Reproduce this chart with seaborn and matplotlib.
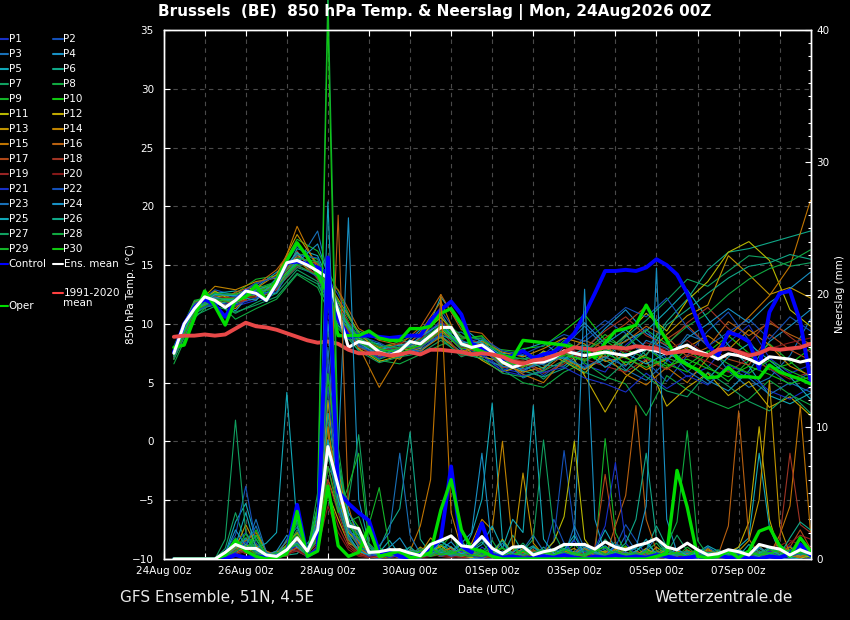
import sys
import numpy as np
import pandas as pd
import matplotlib
matplotlib.use("Agg")
import matplotlib.pyplot as plt
from matplotlib.lines import Line2D
from matplotlib.ticker import MultipleLocator
import seaborn as sns

# ---------------- time axes (hours after 24Aug2026 00Z) ----------------
HOURS_6H = list(range(6, 379, 6))     # 63 steps
HOURS_12H = list(range(6, 379, 12))   # 32 steps
X_TICK_DAYS = [0, 2, 4, 6, 8, 10, 12, 14]
X_TICK_LABELS = ["24Aug 00z", "26Aug 00z", "28Aug 00z", "30Aug 00z",
                 "01Sep 00z", "03Sep 00z", "05Sep 00z", "07Sep 00z"]

# ---------------- main series, 6-hourly ----------------
ENS_MEAN_T = [7.5, 10.0, 11.3, 12.3, 12.0, 11.4, 12.0, 12.8, 12.6,
              12.0, 13.4, 15.2, 15.4, 15.0, 14.5, 13.9, 11.0, 8.0,
              8.5, 8.3, 7.6, 7.3, 7.7, 8.5, 8.3, 9.0, 9.7,
              9.7, 8.3, 8.0, 8.2, 7.6, 6.75, 6.3, 6.6, 6.75,
              6.75, 7.1, 7.7, 7.5, 7.3, 7.45, 7.6, 7.45, 7.3,
              7.6, 7.9, 7.7, 7.45, 7.9, 8.2, 7.7, 7.4, 7.0,
              7.45, 7.3, 7.0, 6.6, 7.2, 7.1, 7.0, 6.75, 6.95]
CONTROL_T = [7.6, 10.0, 11.4, 12.1, 11.6, 10.6, 12.0, 12.8, 12.6,
             12.0, 13.4, 15.2, 15.3, 15.1, 14.8, 14.3, 10.5, 8.9,
             9.0, 9.0, 8.9, 8.8, 8.9, 9.0, 9.0, 10.3, 11.2,
             11.9, 10.8, 8.3, 8.0, 7.6, 7.0, 7.3, 7.7, 7.1,
             7.4, 7.6, 8.3, 9.2, 10.8, 12.6, 14.5, 14.5, 14.6,
             14.5, 14.8, 15.5, 15.0, 14.2, 12.6, 10.2, 8.2, 7.3,
             9.3, 9.0, 8.5, 6.2, 11.0, 12.6, 12.8, 10.2, 5.2]
OPER_T = [8.0, 8.2, 10.5, 12.8, 11.5, 9.9, 12.0, 12.3, 13.3,
          12.0, 13.7, 15.4, 16.9, 15.7, 14.2, 12.5, 9.0, 9.0,
          9.0, 9.4, 8.8, 8.6, 8.6, 9.6, 9.6, 9.8, 10.9,
          11.3, 10.0, 8.0, 7.6, 7.4, 7.3, 7.1, 8.6, 8.5,
          8.4, 8.3, 8.2, 8.0, 7.9, 7.1, 8.4, 9.4, 9.6,
          9.9, 11.6, 10.0, 8.6, 7.1, 6.5, 6.1, 5.4, 5.5,
          6.3, 5.5, 5.5, 5.4, 6.5, 5.9, 5.6, 5.3, 4.9]
CLIM_T = [8.9, 9.0, 9.0, 9.1, 9.0, 9.1, 9.6, 10.1, 9.8,
          9.7, 9.5, 9.2, 8.9, 8.6, 8.4, 8.5, 8.3, 7.8,
          7.5, 7.5, 7.5, 7.3, 7.4, 7.6, 7.4, 7.8, 7.8,
          7.7, 7.6, 7.4, 7.5, 7.4, 7.2, 6.8, 6.6, 6.9,
          7.0, 7.3, 7.6, 8.0, 7.9, 7.8, 8.0, 8.0, 7.9,
          8.1, 8.0, 7.9, 7.5, 7.6, 7.7, 7.5, 7.3, 7.8,
          7.9, 7.6, 7.3, 7.5, 7.9, 7.8, 7.9, 8.0, 8.3]
ENS_MEAN_P = [0, 0, 0, 0, 0, 0.5, 1.1, 0.8, 0.8,
              0.3, 0.2, 0.7, 1.6, 0.6, 2.2, 8.5, 5.5, 2.5,
              2.3, 0.5, 0.55, 0.7, 0.7, 0.45, 0.25, 1.1, 1.4,
              1.75, 1.0, 0.9, 1.7, 0.8, 0.4, 0.9, 0.95, 0.3,
              0.55, 0.7, 1.1, 1.1, 1.1, 0.75, 1.3, 0.9, 0.7,
              1.0, 1.2, 1.55, 0.9, 0.7, 1.2, 0.7, 0.3, 0.4,
              0.7, 0.55, 0.3, 1.1, 0.9, 0.75, 0.3, 0.7, 0.4]
CONTROL_P = [0, 0, 0, 0, 0, 0, 0.3, 0.1, 0.2,
             0.1, 0.2, 0.5, 4.1, 0.2, 0.7, 22.8, 5.1, 4.2,
             3.5, 2.9, 0.5, 0.6, 0.2, 0.1, 0.3, 0.8, 1.5,
             7.0, 1.0, 0.5, 2.7, 0.3, 0.1, 0.2, 0, 0.1,
             0.2, 0.1, 0.3, 0.1, 0, 0.2, 0.1, 0.3, 0.1,
             0.2, 0.1, 0.3, 0.2, 0, 0.1, 0.2, 0.1, 0.3,
             0.1, 0.2, 0.1, 0, 0.2, 0.1, 0.4, 1.1, 0.3]
OPER_P = [0, 0, 0, 0, 0, 0.3, 1.4, 0.6, 0.2,
          0, 0.1, 0.4, 3.6, 0.2, 0.6, 5.5, 1.0, 0.2,
          0.5, 2.4, 0.2, 0.4, 0.6, 0.1, 0.2, 0.5, 3.7,
          6.0, 2.2, 0.8, 0.6, 0.2, 0, 0, 0, 0,
          0, 0, 0, 0, 0, 0, 0, 0, 0,
          0, 0, 0.2, 0.4, 6.7, 3.9, 0.2, 0.1, 0.2,
          0.6, 0.1, 0.6, 2.1, 2.4, 1.0, 0.2, 1.6, 0.6]

# ---------------- perturbed members: 850 hPa temperature, 12-hourly ----------------
P1_T = [7.2, 11.0, 12.5, 11.5, 12.0, 13.8, 15.8, 14.9, 10.2, 8.2, 7.0, 8.1, 9.0, 10.1, 7.9, 7.5,
        6.2, 5.8, 7.4, 8.8, 6.5, 5.9, 8.2, 9.6, 7.0, 5.5, 6.3, 8.4, 9.9, 7.1, 5.8, 6.5]
P2_T = [7.8, 11.6, 12.9, 12.4, 13.5, 14.0, 16.6, 15.2, 12.5, 9.1, 8.2, 7.1, 8.8, 11.2, 8.6, 7.4,
        6.0, 6.9, 5.6, 6.9, 8.9, 10.3, 9.2, 6.8, 5.1, 7.3, 9.4, 11.0, 8.6, 6.2, 4.8, 5.9]
P3_T = [7.4, 11.2, 11.6, 12.2, 12.9, 12.9, 15.1, 17.9, 10.5, 8.8, 7.9, 8.0, 7.6, 9.2, 9.3, 8.0,
        7.2, 5.4, 6.1, 8.1, 9.8, 8.0, 6.1, 5.2, 6.8, 9.1, 8.4, 6.0, 4.6, 5.4, 7.3, 10.4]
P4_T = [7.0, 10.8, 12.2, 11.1, 13.1, 14.4, 15.6, 13.9, 9.9, 8.0, 7.4, 7.9, 9.5, 10.9, 8.1, 8.6,
        7.5, 7.3, 6.5, 6.4, 7.8, 9.6, 11.2, 9.2, 8.1, 6.6, 5.2, 4.3, 6.0, 8.5, 9.8, 11.2]
P5_T = [7.6, 11.4, 12.6, 12.8, 12.4, 12.6, 16.4, 15.8, 11.8, 8.6, 8.3, 7.2, 8.0, 12.3, 9.8, 8.4,
        6.5, 7.8, 8.4, 7.1, 6.2, 7.0, 8.6, 9.4, 11.1, 12.9, 10.4, 8.2, 6.4, 3.9, 3.2, 4.1]
P6_T = [7.3, 11.5, 11.9, 11.7, 12.2, 13.1, 14.8, 14.2, 10.8, 9.4, 8.7, 8.6, 8.2, 9.0, 7.6, 7.0,
        6.4, 6.0, 5.5, 6.2, 7.5, 6.9, 6.0, 7.8, 10.2, 12.1, 14.6, 16.1, 16.4, 16.9, 17.4, 17.9]
P7_T = [7.1, 10.9, 11.8, 10.9, 11.8, 12.6, 14.6, 13.6, 9.6, 7.8, 7.0, 7.6, 8.6, 8.8, 7.2, 7.9,
        7.4, 6.6, 5.3, 6.8, 8.0, 7.1, 8.9, 10.3, 12.0, 13.8, 13.2, 14.5, 15.8, 15.6, 14.9, 15.2]
P8_T = [6.6, 10.5, 12.1, 10.4, 11.3, 12.1, 14.2, 13.1, 9.2, 8.3, 6.9, 6.6, 7.4, 8.2, 8.8, 8.9,
        6.1, 5.0, 4.6, 5.9, 6.7, 5.5, 4.9, 2.2, 5.6, 4.4, 3.5, 2.8, 3.6, 5.2, 4.0, 3.1]
P9_T = [8.1, 12.0, 12.4, 12.6, 13.8, 14.1, 17.2, 16.2, 12.8, 9.0, 8.0, 8.5, 9.2, 10.5, 9.0, 8.1,
        7.8, 7.6, 7.0, 8.6, 7.6, 9.1, 7.8, 7.1, 6.2, 7.9, 6.4, 5.1, 6.9, 8.3, 6.8, 5.4]
P10_T = [7.9, 11.8, 12.7, 12.1, 12.8, 13.6, 16.0, 15.5, 11.4, 8.9, 7.7, 7.4, 8.4, 9.9, 8.7, 9.0,
         7.0, 7.9, 8.1, 9.4, 10.8, 8.6, 7.4, 8.0, 6.6, 5.9, 7.6, 9.0, 7.5, 6.1, 6.6, 7.9]
P11_T = [7.7, 11.1, 12.3, 12.5, 13.2, 13.0, 15.9, 14.4, 11.9, 8.4, 7.3, 7.8, 7.9, 9.6, 7.8, 7.2,
         6.8, 6.3, 7.7, 6.8, 5.8, 7.6, 9.0, 10.9, 9.4, 12.0, 13.6, 16.1, 17.0, 15.4, 11.2, 9.8]
P12_T = [7.5, 11.3, 12.8, 11.8, 12.5, 13.3, 15.2, 14.8, 10.9, 7.9, 6.8, 7.3, 8.5, 9.4, 8.2, 6.9,
         5.9, 6.5, 7.1, 8.3, 5.6, 2.5, 5.5, 6.9, 3.0, 4.6, 5.8, 3.9, 5.1, 2.9, 3.8, 2.2]
P13_T = [7.0, 11.7, 12.0, 11.3, 13.0, 14.2, 17.6, 15.0, 12.1, 9.3, 7.5, 7.0, 8.9, 10.6, 8.4, 7.8,
         6.6, 5.9, 6.3, 7.5, 6.9, 8.2, 6.5, 7.4, 9.1, 10.7, 11.6, 15.8, 14.2, 12.5, 13.1, 12.2]
P14_T = [7.3, 11.5, 13.2, 12.9, 13.6, 13.9, 15.4, 14.0, 10.6, 8.7, 8.0, 8.3, 7.7, 8.9, 7.5, 8.5,
         7.6, 7.2, 7.9, 8.8, 8.3, 6.8, 7.2, 6.1, 7.0, 8.0, 9.0, 7.8, 9.5, 8.2, 6.4, 5.6]
P15_T = [7.2, 11.0, 12.2, 12.2, 12.3, 13.5, 18.3, 14.7, 10.3, 8.1, 4.6, 7.5, 9.3, 11.9, 8.0, 7.6,
         6.9, 5.7, 5.0, 7.0, 6.1, 7.3, 5.7, 4.8, 6.3, 5.0, 7.1, 8.9, 10.6, 12.4, 14.9, 20.5]
P16_T = [7.8, 11.9, 11.7, 12.7, 13.3, 14.6, 16.9, 14.1, 12.9, 9.6, 8.6, 8.2, 9.7, 12.5, 9.5, 9.2,
         7.3, 6.8, 6.0, 7.4, 8.6, 7.9, 8.5, 9.8, 8.9, 7.2, 8.0, 10.2, 9.0, 10.1, 9.1, 8.3]
P17_T = [7.4, 11.4, 12.0, 11.9, 12.1, 12.9, 15.7, 15.1, 11.2, 8.5, 7.8, 8.0, 8.0, 9.3, 8.5, 8.0,
         6.3, 6.4, 6.7, 7.6, 7.2, 8.8, 10.0, 11.5, 8.7, 9.9, 8.1, 7.0, 6.5, 9.1, 7.8, 6.9]
P18_T = [7.6, 11.2, 12.4, 11.5, 12.7, 13.2, 16.2, 13.8, 10.7, 8.0, 7.2, 7.7, 8.7, 10.2, 8.9, 8.3,
         7.1, 6.7, 5.8, 6.6, 7.9, 9.4, 10.6, 9.0, 8.2, 10.1, 11.4, 9.6, 8.4, 10.3, 8.9, 7.6]
P19_T = [7.1, 11.0, 12.1, 12.3, 13.0, 13.0, 14.9, 14.3, 10.4, 8.6, 7.5, 8.4, 8.3, 9.5, 7.3, 7.7,
         6.7, 6.1, 6.8, 7.8, 7.0, 6.4, 5.9, 7.0, 6.1, 7.4, 6.8, 5.9, 7.1, 6.2, 5.3, 5.9]
P20_T = [7.7, 11.6, 12.3, 12.0, 12.4, 13.7, 15.3, 14.6, 11.6, 8.8, 7.9, 7.8, 8.1, 9.8, 8.0, 8.2,
         7.0, 6.9, 7.3, 8.0, 7.4, 8.1, 7.6, 8.4, 7.8, 8.6, 7.3, 8.0, 7.5, 7.9, 8.4, 8.8]
P21_T = [7.3, 11.1, 11.8, 11.6, 12.2, 13.1, 15.0, 14.0, 10.1, 8.3, 7.1, 7.9, 8.5, 10.3, 7.7, 7.3,
         6.0, 5.6, 5.9, 6.3, 5.4, 4.9, 4.2, 5.8, 4.5, 5.6, 4.8, 6.5, 5.7, 4.3, 3.6, 4.6]
P22_T = [7.9, 11.7, 12.6, 12.3, 13.4, 14.0, 15.9, 15.6, 11.0, 9.0, 8.4, 7.5, 8.0, 9.1, 8.3, 8.8,
         7.7, 7.4, 8.2, 9.1, 8.5, 9.9, 11.4, 10.6, 12.2, 9.7, 8.1, 9.3, 10.4, 8.7, 10.6, 9.4]
P23_T = [7.5, 11.3, 12.2, 12.0, 12.6, 12.7, 15.5, 14.5, 11.3, 8.1, 7.6, 7.4, 7.8, 9.0, 8.6, 7.9,
         6.4, 6.2, 6.6, 7.2, 6.3, 7.2, 6.4, 8.6, 7.9, 6.0, 4.9, 6.2, 5.4, 4.0, 5.0, 4.2]
P24_T = [7.2, 11.4, 12.3, 11.8, 12.9, 13.4, 15.2, 16.8, 11.5, 8.4, 7.3, 7.6, 8.9, 10.0, 8.2, 7.6,
         7.1, 6.0, 7.0, 8.4, 10.1, 8.3, 9.5, 8.0, 6.9, 8.8, 10.0, 11.3, 10.1, 11.8, 13.0, 14.4]
P25_T = [7.6, 11.2, 12.5, 12.4, 12.0, 13.9, 16.1, 14.2, 10.9, 8.8, 7.8, 8.2, 8.4, 9.7, 8.4, 8.4,
         7.3, 6.5, 7.6, 7.0, 7.9, 6.3, 7.5, 6.6, 7.5, 6.7, 5.3, 7.2, 8.3, 6.9, 5.5, 3.6]
P26_T = [7.4, 11.3, 12.0, 12.1, 12.6, 13.3, 15.4, 14.8, 11.1, 8.5, 7.7, 7.8, 8.3, 9.7, 8.1, 8.0,
         6.9, 7.1, 6.2, 7.7, 8.2, 7.4, 9.1, 7.3, 9.9, 11.2, 12.6, 13.9, 14.9, 15.2, 15.9, 15.5]
P27_T = [7.0, 10.7, 11.5, 11.0, 11.6, 12.3, 14.3, 13.4, 9.8, 7.7, 6.7, 7.2, 7.5, 8.6, 7.4, 7.1,
         5.8, 5.5, 6.0, 6.9, 5.9, 5.2, 6.8, 5.5, 4.3, 3.8, 5.9, 4.7, 3.4, 2.6, 4.1, 2.4]
P28_T = [8.0, 11.9, 12.6, 12.5, 13.0, 13.6, 15.6, 15.3, 11.9, 9.2, 8.1, 8.0, 8.6, 9.9, 8.9, 8.7,
         7.4, 7.0, 7.3, 8.2, 7.7, 8.7, 8.0, 9.5, 8.3, 9.8, 10.9, 12.5, 13.8, 14.7, 15.3, 16.3]
P29_T = [7.8, 11.5, 12.1, 12.2, 12.5, 13.1, 15.0, 14.1, 10.7, 8.4, 7.6, 7.9, 8.1, 9.4, 7.9, 8.1,
         6.6, 6.7, 7.1, 7.5, 6.8, 7.8, 7.1, 6.3, 7.1, 6.5, 7.7, 6.6, 5.8, 6.9, 6.0, 5.2]
P30_T = [7.3, 11.1, 12.0, 11.9, 12.7, 13.5, 15.1, 14.9, 11.3, 8.7, 7.9, 7.5, 8.2, 9.8, 8.2, 7.8,
         6.8, 6.4, 6.9, 7.3, 7.0, 7.5, 6.7, 7.2, 6.4, 7.0, 6.2, 5.5, 6.4, 5.7, 4.9, 5.5]

# ---------------- perturbed members: precipitation (mm), 6-hourly ----------------
P1_P = [0, 0, 0, 0, 0, 0.3, 1.2, 2.0, 0.6, 0.2, 0, 0.4, 1.1, 0.3, 1.5, 15.0, 4.2, 1.8,
        1.2, 0.3, 0.2, 0.5, 0, 0.3, 0.1, 0.6, 1.4, 0.8, 0.2, 0.1, 0.9, 0.4, 0, 0.2, 0.6, 0.1,
        0, 0.3, 1.0, 0.4, 0.2, 0, 0.5, 0.9, 0.3, 0.1, 0, 0.4, 0.8, 0.2, 0, 0.1, 0.3, 0,
        0, 0.2, 0.6, 0.1, 0, 0.4, 1.0, 0.3, 0]
P2_P = [0, 0, 0, 0, 0, 0.5, 0.8, 1.5, 0.9, 0.1, 0.3, 0.2, 2.0, 0.5, 3.0, 9.0, 6.5, 2.1,
        0.9, 0.2, 0, 0.4, 0.6, 0.2, 0, 0.8, 0.5, 0.3, 0.1, 0.6, 0.2, 0, 0.3, 0.1, 0.4, 0.9,
        0.2, 1.4, 8.2, 2.1, 0.3, 0.1, 0, 0.5, 0.2, 0, 0.3, 0.6, 0.1, 0, 0.2, 0.4, 0, 0.1,
        0.3, 0, 0, 0.2, 0.5, 0.1, 0, 0.2, 0.6]
P3_P = [0, 0, 0, 0, 0, 0.2, 0.6, 1.0, 2.5, 0.4, 0.1, 0.8, 0.6, 0.2, 1.0, 7.0, 5.5, 3.0,
        1.8, 0.4, 0.1, 0.6, 0.2, 0, 0.3, 1.1, 0.4, 0.2, 0.6, 0.1, 0, 0.4, 1.2, 0.3, 0.1, 0,
        0.3, 0.6, 0.2, 2.5, 0.8, 0.1, 0, 0.4, 1.8, 0.6, 0.2, 0, 0.3, 0.7, 0.2, 0, 0.1, 0.5,
        0.2, 0, 0.4, 0.9, 0.3, 0, 0.1, 0.6, 0.2]
P4_P = [0, 0, 0, 0, 0, 0.1, 0.4, 0.7, 0.3, 0, 0.2, 0.5, 1.2, 0.3, 2.2, 11.0, 8.0, 25.8,
        4.5, 1.1, 0.3, 0.2, 0.6, 0.4, 0.1, 0.3, 0.7, 1.3, 0.4, 0, 0.2, 0.5, 0.1, 0.3, 0.8, 0.2,
        0, 0.2, 0.6, 1.5, 20.4, 3.0, 0.4, 0.1, 0.3, 0.2, 0.8, 0.4, 0, 0.1, 0.5, 0.2, 0, 0.3,
        0.6, 0.1, 0, 0.3, 0.2, 0.8, 0.1, 0, 0.4]
P5_P = [0, 0, 0, 0, 0, 0.4, 2.8, 4.2, 1.5, 0.3, 0.5, 1.0, 3.0, 0.8, 4.0, 27.0, 7.5, 3.2,
        0.8, 0.2, 0.5, 1.4, 0.3, 0.9, 0.2, 0.5, 1.1, 0.6, 0.3, 1.9, 4.5, 11.8, 1.4, 0.3, 0.6, 1.0,
        0.2, 0.5, 1.2, 0.4, 0.1, 0.6, 2.2, 0.8, 0.3, 0.5, 1.5, 0.3, 0.9, 0.2, 0.4, 0.1, 0.6, 0.3,
        0.2, 0.9, 1.6, 8.0, 2.4, 0.5, 0.1, 0.3, 0.8]
P6_P = [0, 0, 0, 0, 0, 0.2, 0.9, 0.5, 1.8, 0.6, 0.1, 0.3, 0.4, 1.2, 2.0, 8.0, 4.5, 2.2,
        1.5, 0.4, 0.8, 2.5, 3.8, 9.6, 1.5, 0.4, 0.2, 0.5, 1.4, 0.3, 0.1, 0.6, 0.2, 1.8, 0.5, 0.2,
        0.9, 0.3, 0.1, 0.4, 1.1, 0.2, 0.6, 1.3, 0.4, 0.3, 0.7, 2.5, 0.9, 0.2, 0.1, 0.4, 0.6, 0.2,
        0.1, 0.4, 0.2, 0.8, 0.3, 1.1, 0.5, 0.2, 0.4]
P7_P = [0, 0, 0, 0, 0, 0.8, 3.5, 1.2, 0.4, 0.1, 0.4, 0.9, 2.2, 0.6, 1.8, 12.0, 6.0, 4.4,
        9.4, 2.0, 0.6, 0.3, 0.1, 0.5, 0.2, 0.8, 1.6, 0.4, 0.2, 0.7, 1.3, 0.3, 0, 0.5, 1.2, 0.4,
        0.1, 0.3, 0.8, 0.2, 0.6, 0.4, 1.5, 0.7, 0.2, 0.9, 0.3, 0.1, 0.4, 1.8, 0.6, 0.2, 0, 0.3,
        0.5, 0.2, 0.7, 0.1, 0.3, 0.9, 0.4, 1.2, 0.6]
P8_P = [0, 0, 0, 0, 0, 0.4, 1.6, 0.8, 1.1, 0.3, 0.2, 0.6, 1.5, 0.4, 5.0, 43.0, 8.5, 2.8,
        3.2, 0.9, 0.4, 0.2, 0.6, 0.3, 0.1, 0.7, 0.5, 0.2, 0.8, 0.3, 0.5, 1.4, 0.2, 0.1, 0.3, 0.6,
        0.4, 0.2, 1.0, 0.3, 0.5, 0.8, 0.2, 0.1, 0.4, 0.2, 0.6, 1.2, 0.3, 0, 0.4, 0.7, 0.2, 0.1,
        0.3, 0.1, 0.5, 0.4, 0.2, 0.6, 0.3, 0.8, 0.2]
P9_P = [0, 0, 0, 0, 0, 0.1, 0.7, 1.9, 0.6, 0.2, 0.5, 1.3, 3.6, 0.7, 2.5, 10.0, 5.0, 2.0,
        1.0, 2.6, 5.4, 0.8, 0.3, 0.6, 0.2, 0.4, 0.9, 1.8, 0.5, 0.2, 0.4, 0.9, 0.3, 0.1, 0.6, 0.2,
        0.7, 0.3, 0.5, 1.1, 0.4, 0.2, 9.1, 2.0, 0.5, 0.3, 0.1, 0.6, 0.4, 0.2, 0.9, 0.3, 0.1, 0.5,
        0.2, 0.7, 0.3, 0.1, 0.5, 0.2, 0.9, 0.4, 0.1]
P10_P = [0, 0, 0, 0, 0, 0.3, 1.0, 0.5, 2.2, 0.5, 0.1, 0.8, 1.0, 0.2, 3.2, 14.0, 6.8, 3.5,
         2.4, 0.5, 0.9, 0.2, 0.4, 0.1, 0.6, 1.2, 0.3, 0.6, 0.2, 0.9, 0.3, 0.1, 0.5, 0.8, 0.2, 0.4,
         0.3, 0.8, 0.2, 0.5, 0.1, 0.3, 0.6, 0.4, 1.0, 0.2, 0.5, 0.1, 0.7, 0.3, 0.2, 0.6, 0.4, 0.1,
         0.4, 0.2, 0.1, 0.6, 0.3, 0.5, 0.2, 0.1, 0.3]
P11_P = [0, 0, 0, 0, 0, 0.2, 0.5, 0.9, 0.4, 0.1, 0.3, 0.6, 1.4, 0.2, 2.0, 6.0, 3.8, 1.5,
         0.6, 0.2, 0.1, 0.4, 0.8, 0.3, 0.1, 0.5, 1.0, 0.4, 0.6, 0.2, 0.1, 0.3, 1.5, 0.4, 0.2, 0.1,
         0.5, 1.3, 3.2, 8.9, 1.5, 0.4, 0.2, 0.7, 0.3, 0.1, 0.4, 0.2, 0.8, 0.3, 0.1, 0.5, 0.2, 0.6,
         0.3, 0.1, 0.4, 1.0, 0.2, 0.6, 0.3, 0.1, 0.2]
P12_P = [0, 0, 0, 0, 0, 0.1, 0.3, 1.1, 0.7, 0.2, 0.1, 0.4, 0.9, 0.5, 1.4, 5.0, 3.0, 1.2,
         0.8, 0.3, 0.2, 0.1, 0.5, 0.2, 0.6, 0.3, 0.4, 0.9, 0.2, 0.1, 0.4, 0.6, 0.3, 0.2, 0.8, 0.3,
         0.1, 0.4, 0.2, 0.6, 0.3, 0.9, 0.4, 0.2, 0.5, 0.3, 0.8, 0.2, 0.1, 0.4, 0.2, 0.6, 0.3, 0.1,
         0.5, 0.9, 2.8, 10.0, 3.0, 0.4, 0.2, 0.6, 0.3]
P13_P = [0, 0, 0, 0, 0, 0.3, 0.8, 2.6, 1.0, 0.4, 0.2, 1.1, 2.0, 0.6, 1.8, 12.0, 5.5, 2.0,
         1.3, 0.4, 0.1, 0.6, 0.3, 0.2, 0.9, 0.4, 0.2, 0.5, 0.3, 0.7, 0.2, 0.1, 0.6, 0.4, 6.5, 1.2,
         0.3, 0.1, 0.5, 0.8, 0.2, 0.4, 0.6, 0.3, 0.1, 0.4, 0.2, 0.9, 0.3, 0.5, 0.1, 0.2, 0.7, 0.3,
         0.1, 0.6, 1.4, 4.5, 13.5, 2.5, 0.4, 0.2, 0.5]
P14_P = [0, 0, 0, 0, 0, 0.2, 1.3, 0.6, 0.9, 0.3, 0.6, 0.4, 1.7, 0.2, 2.4, 9.0, 7.0, 2.4,
         0.9, 0.2, 0.5, 0.3, 0.1, 0.7, 0.4, 1.6, 0.8, 0.3, 0.5, 1.2, 3.0, 2.2, 8.9, 1.0, 0.3, 0.2,
         0.6, 0.2, 0.4, 0.1, 0.8, 0.3, 0.5, 0.2, 0.9, 0.2, 0.5, 0.3, 0.1, 0.6, 0.4, 0.2, 0.8, 0.3,
         0.4, 0.2, 0.6, 0.3, 0.1, 0.5, 0.9, 0.2, 0.4]
P15_P = [0, 0, 0, 0, 0, 0.4, 0.6, 1.4, 2.0, 0.6, 0.3, 1.4, 1.0, 0.4, 3.0, 10.0, 5.0, 1.6,
         0.7, 0.5, 0.2, 0.8, 0.3, 0.6, 2.5, 6.0, 20.0, 3.5, 0.8, 0.4, 0.2, 0.6, 0.3, 0.1, 0.5, 0.2,
         0.4, 0.2, 0.6, 0.3, 0.1, 0.5, 0.3, 0.8, 0.2, 0.6, 0.3, 0.1, 0.4, 0.2, 0.7, 0.3, 0.1, 0.5,
         0.2, 0.4, 0.1, 0.6, 0.3, 1.8, 4.0, 11.6, 2.0]
P16_P = [0, 0, 0, 0, 0, 0.2, 0.9, 0.5, 0.3, 0.1, 0.2, 0.7, 1.3, 0.5, 2.0, 8.0, 26.0, 4.0,
         1.2, 0.6, 0.3, 0.1, 0.4, 0.2, 0.7, 0.3, 0.5, 0.8, 0.2, 0.4, 0.6, 0.1, 0.3, 0.2, 0.5, 0.7,
         0.3, 0.6, 0.2, 0.4, 0.9, 0.3, 0.1, 2.5, 4.8, 11.6, 3.0, 0.6, 0.3, 0.2, 0.5, 0.4, 0.1, 0.3,
         2.5, 11.2, 1.5, 0.4, 0.2, 0.6, 0.3, 0.1, 0.5]
P17_P = [0, 0, 0, 0, 0, 0.1, 0.6, 1.0, 0.5, 0.2, 0.1, 0.5, 0.8, 0.3, 1.6, 7.0, 4.0, 1.4,
         0.5, 0.2, 0.1, 0.3, 0.6, 0.2, 0.4, 0.9, 0.3, 0.2, 0.5, 0.3, 0.1, 0.7, 0.4, 0.2, 0.3, 0.6,
         0.2, 0.4, 0.1, 0.5, 0.3, 0.9, 6.4, 1.2, 0.3, 0.2, 0.4, 0.1, 0.6, 0.3, 0.2, 0.5, 0.1, 0.4,
         0.3, 0.1, 0.5, 0.2, 0.6, 0.4, 0.9, 2.2, 0.8]
P18_P = [0, 0, 0, 0, 0, 0.3, 0.4, 0.8, 0.2, 0.1, 0.3, 0.2, 1.0, 0.4, 1.2, 6.0, 3.5, 1.1,
         0.4, 0.1, 0.3, 0.2, 0.5, 0.1, 0.3, 0.6, 0.2, 0.4, 0.1, 0.2, 0.5, 0.3, 0.1, 0.6, 0.2, 0.4,
         0.1, 0.3, 0.5, 0.2, 0.4, 0.1, 0.3, 0.6, 0.2, 0.5, 0.2, 0.1, 0.3, 0.4, 0.2, 0.1, 0.6, 0.3,
         0.2, 0.5, 0.3, 0.6, 0.4, 1.5, 8.0, 2.6, 2.0]
P19_P = [0, 0, 0, 0, 0, 0.2, 0.7, 0.4, 0.6, 0.2, 0.1, 0.4, 0.6, 0.2, 1.0, 5.0, 2.5, 0.9,
         0.3, 0.2, 0.1, 0.4, 0.2, 0.3, 0.1, 0.5, 0.2, 0.1, 0.3, 0.2, 0.4, 0.1, 0.2, 0.3, 0.1, 0.4,
         0.2, 0.1, 0.3, 0.2, 0.5, 0.1, 0.2, 0.4, 0.1, 0.3, 0.1, 0.2, 0.4, 0.1, 0.3, 0.2, 0.1, 0.4,
         0.2, 0.3, 0.1, 0.5, 0.2, 0.4, 1.2, 1.8, 1.5]
P20_P = [0, 0, 0, 0, 0, 0.1, 0.3, 0.6, 0.3, 0.1, 0.2, 0.3, 0.7, 0.2, 0.8, 4.0, 2.0, 0.7,
         0.2, 0.1, 0.3, 0.1, 0.2, 0.4, 0.1, 0.2, 0.3, 0.2, 0.1, 0.3, 0.2, 0.1, 0.2, 0.4, 0.1, 0.2,
         0.3, 0.1, 0.2, 0.1, 0.3, 0.2, 0.1, 0.3, 0.2, 0.1, 0.2, 0.3, 0.1, 0.2, 0.1, 0.3, 0.2, 0.1,
         0.3, 0.1, 0.2, 0.4, 0.6, 1.0, 1.4, 1.1, 0.9]
P21_P = [0, 0, 0, 0, 0, 0.2, 0.5, 1.3, 0.4, 0.1, 0.3, 0.6, 1.0, 0.4, 1.9, 9.0, 3.8, 1.6,
         0.7, 0.2, 0.4, 0.1, 0.3, 0.5, 0.2, 0.6, 0.4, 0.3, 0.6, 0.2, 0.1, 0.4, 0.3, 0.5, 0.2, 0.1,
         0.4, 0.2, 0.6, 1.4, 0.3, 0.8, 2.5, 7.3, 1.2, 0.3, 0.1, 0.5, 0.2, 0.4, 0.6, 0.2, 0.1, 0.3,
         0.2, 0.4, 0.1, 0.3, 0.6, 0.2, 0.5, 0.9, 0.3]
P22_P = [0, 0, 0, 0, 0, 0.6, 1.8, 5.5, 1.2, 0.4, 0.2, 0.7, 1.3, 0.5, 2.8, 13.0, 5.0, 2.4,
         1.0, 0.4, 0.2, 0.6, 0.3, 0.1, 0.4, 0.8, 0.2, 0.5, 0.3, 0.9, 0.4, 0.2, 0.6, 0.3, 0.1, 0.5,
         0.2, 3.0, 1.2, 0.4, 0.6, 0.2, 0.3, 0.9, 2.6, 1.4, 0.3, 0.2, 0.6, 0.4, 0.1, 0.5, 0.3, 0.2,
         0.4, 0.2, 0.6, 0.3, 0.1, 0.5, 0.2, 0.4, 0.6]
P23_P = [0, 0, 0, 0, 0, 0.3, 1.4, 0.9, 3.0, 0.5, 0.2, 1.5, 2.4, 0.6, 2.0, 16.0, 6.0, 2.2,
         1.4, 0.6, 1.0, 2.0, 8.0, 1.8, 0.4, 0.3, 0.6, 0.2, 0.4, 0.8, 1.5, 0.6, 0.3, 0.2, 0.7, 1.8,
         0.6, 0.3, 0.2, 0.5, 1.2, 0.4, 0.8, 0.3, 0.5, 0.2, 0.7, 1.6, 0.4, 0.2, 0.5, 0.3, 0.9, 0.4,
         0.6, 0.3, 0.2, 0.9, 0.4, 0.2, 0.7, 0.3, 0.5]
P24_P = [0, 0, 0, 0, 0, 0.4, 2.2, 1.0, 0.6, 0.3, 0.6, 1.8, 0.9, 0.3, 3.5, 18.0, 7.0, 3.5,
         2.0, 0.5, 0.3, 0.9, 1.6, 0.4, 0.6, 1.0, 0.5, 0.4, 1.2, 2.0, 8.0, 0.6, 0.3, 0.5, 1.0, 0.4,
         0.2, 0.7, 0.4, 0.3, 0.9, 0.5, 0.2, 1.1, 0.6, 0.8, 4.0, 22.0, 3.0, 0.5, 0.3, 0.6, 0.2, 0.4,
         0.3, 0.7, 0.4, 0.2, 0.8, 0.3, 0.5, 0.6, 0.2]
P25_P = [0, 0, 0, 0, 0, 0.5, 1.0, 3.5, 0.8, 1.2, 2.0, 12.6, 2.5, 0.8, 2.6, 9.0, 4.5, 1.8,
         0.6, 0.3, 0.8, 0.4, 0.2, 0.7, 0.3, 0.5, 1.3, 0.9, 0.4, 0.6, 1.1, 2.5, 0.8, 3.0, 2.0, 11.6,
         1.5, 0.4, 0.7, 1.8, 0.3, 0.6, 1.0, 0.4, 0.2, 0.6, 1.2, 0.4, 0.3, 0.8, 0.2, 0.5, 1.0, 0.6,
         0.4, 0.2, 1.1, 0.5, 0.3, 0.7, 0.2, 0.9, 0.4]
P26_P = [0, 0, 0, 0, 0, 0.2, 0.8, 1.6, 0.5, 0.2, 0.4, 0.9, 1.2, 0.3, 2.4, 11.0, 5.5, 2.6,
         1.8, 0.4, 0.6, 0.2, 0.5, 0.9, 0.3, 0.4, 0.7, 0.3, 0.8, 0.5, 0.2, 0.6, 1.4, 0.4, 0.3, 0.9,
         0.5, 0.2, 0.8, 0.4, 0.3, 0.6, 0.2, 0.5, 1.2, 3.0, 8.0, 1.5, 0.4, 0.3, 0.6, 0.2, 0.5, 0.3,
         0.2, 0.6, 0.3, 0.4, 0.9, 0.3, 1.6, 2.8, 2.2]
P27_P = [0, 0, 0, 0, 0, 1.5, 10.5, 2.0, 0.8, 0.4, 0.2, 0.6, 2.8, 0.5, 1.4, 8.0, 4.0, 1.5,
         0.6, 0.9, 0.3, 0.5, 0.2, 0.4, 0.8, 0.3, 0.6, 0.4, 0.2, 0.7, 0.3, 0.5, 0.9, 0.2, 0.6, 1.5,
         9.0, 2.0, 0.5, 0.3, 0.7, 0.4, 0.2, 0.6, 0.3, 0.5, 0.2, 0.4, 0.8, 0.3, 0.6, 0.2, 0.4, 0.7,
         0.3, 0.5, 0.2, 0.6, 0.4, 0.8, 0.3, 0.5, 0.2]
P28_P = [0, 0, 0, 0, 0, 0.3, 1.2, 0.6, 1.5, 0.2, 0.5, 0.3, 1.6, 0.4, 4.0, 14.0, 7.5, 3.0,
         2.0, 0.7, 0.3, 0.5, 0.2, 0.6, 0.4, 0.2, 0.8, 0.5, 0.3, 0.2, 0.6, 0.4, 0.2, 0.9, 0.3, 0.5,
         0.7, 0.3, 0.5, 0.2, 0.4, 0.8, 0.3, 0.6, 0.2, 0.4, 0.2, 0.6, 1.0, 2.8, 9.7, 1.4, 0.3, 0.5,
         0.2, 0.4, 0.6, 0.3, 0.5, 0.2, 0.7, 0.4, 0.3]
P29_P = [0, 0, 0, 0, 0, 0.2, 0.6, 1.0, 0.4, 0.1, 0.3, 0.8, 1.1, 0.2, 1.8, 7.0, 3.5, 5.5,
         8.0, 1.2, 0.4, 0.2, 0.6, 0.3, 0.5, 0.2, 0.4, 0.6, 0.3, 0.2, 0.5, 0.8, 0.4, 0.2, 0.6, 0.3,
         0.4, 0.6, 0.2, 0.5, 0.3, 0.7, 0.4, 0.2, 0.8, 0.3, 0.5, 0.2, 0.6, 0.4, 0.2, 0.8, 0.3, 0.5,
         0.6, 0.2, 0.4, 0.3, 0.7, 0.5, 0.2, 0.6, 0.4]
P30_P = [0, 0, 0, 0, 0, 0.4, 1.1, 0.7, 1.8, 0.3, 0.2, 1.0, 1.9, 0.5, 3.8, 41.0, 6.0, 2.5,
         1.6, 0.5, 0.8, 0.3, 0.4, 0.2, 0.6, 0.9, 0.3, 0.4, 0.7, 0.3, 0.2, 0.5, 0.8, 0.3, 0.6, 0.2,
         0.5, 0.3, 0.7, 0.4, 0.2, 0.6, 0.9, 0.3, 0.4, 0.2, 0.6, 0.4, 0.3, 0.5, 0.2, 0.7, 0.4, 0.3,
         0.5, 0.2, 0.6, 0.3, 0.4, 0.7, 0.3, 0.5, 0.6]

MEMBER_NAMES = [f"P{i}" for i in range(1, 31)]
BASE_COLORS = ["#1830c8", "#1450b8", "#1870b8", "#1890c4", "#10a8b8",
               "#10a888", "#10a060", "#10a840", "#14b428", "#10c810",
               "#b8b800", "#c0a800", "#c09400", "#c08400", "#c07400",
               "#b86010", "#b04818", "#a03424", "#982424", "#841818"]
MEMBER_COLORS = BASE_COLORS + BASE_COLORS[:10]

T_LISTS = [P1_T, P2_T, P3_T, P4_T, P5_T, P6_T, P7_T, P8_T, P9_T, P10_T,
           P11_T, P12_T, P13_T, P14_T, P15_T, P16_T, P17_T, P18_T, P19_T, P20_T,
           P21_T, P22_T, P23_T, P24_T, P25_T, P26_T, P27_T, P28_T, P29_T, P30_T]
P_LISTS = [P1_P, P2_P, P3_P, P4_P, P5_P, P6_P, P7_P, P8_P, P9_P, P10_P,
           P11_P, P12_P, P13_P, P14_P, P15_P, P16_P, P17_P, P18_P, P19_P, P20_P,
           P21_P, P22_P, P23_P, P24_P, P25_P, P26_P, P27_P, P28_P, P29_P, P30_P]

for nm, t, p in zip(MEMBER_NAMES, T_LISTS, P_LISTS):
    if len(t) != len(HOURS_12H) or len(p) != len(HOURS_6H):
        print("length issue", nm, len(t), len(p), file=sys.stderr)
for nm, s in [("mean_t", ENS_MEAN_T), ("ctl_t", CONTROL_T), ("oper_t", OPER_T),
              ("clim", CLIM_T), ("mean_p", ENS_MEAN_P), ("ctl_p", CONTROL_P), ("oper_p", OPER_P)]:
    if len(s) != len(HOURS_6H):
        print("length issue", nm, len(s), file=sys.stderr)

rows_t, rows_p = [], []
for nm, t, p in zip(MEMBER_NAMES, T_LISTS, P_LISTS):
    for h, v in zip(HOURS_12H, t):
        rows_t.append((nm, h / 24.0, v))
    for h, v in zip(HOURS_6H, p):
        rows_p.append((nm, h / 24.0, v))
df_t = pd.DataFrame(rows_t, columns=["member", "day", "temp"])
df_p = pd.DataFrame(rows_p, columns=["member", "day", "prec"])
palette = dict(zip(MEMBER_NAMES, MEMBER_COLORS))

def days_for(series):
    return [h / 24.0 for h in HOURS_6H[:len(series)]]

# ---------------- style ----------------
sns.set_theme(style="dark", rc={
    "axes.facecolor": "black", "figure.facecolor": "black",
    "savefig.facecolor": "black", "axes.edgecolor": "white",
    "text.color": "white", "axes.labelcolor": "white",
    "xtick.color": "white", "ytick.color": "white",
    "axes.grid": False,
})
plt.rcParams["font.family"] = ["DejaVu Sans"]

W, H = 850, 620
fig = plt.figure(figsize=(8.5, 6.2), dpi=100)
fig.patch.set_facecolor("black")
ax = fig.add_axes([163.6 / W, 1 - 559 / H, (810.5 - 163.6) / W, (559 - 30) / H])
ax.set_facecolor("black")

# grid
ax.set_xlim(0, 15.75)
ax.set_ylim(-10, 35)
ax.xaxis.set_major_locator(plt.FixedLocator(X_TICK_DAYS))
ax.xaxis.set_minor_locator(MultipleLocator(1))
ax.yaxis.set_major_locator(MultipleLocator(5))
ax.grid(which="both", axis="x", color="#4a4a4a", linestyle=(0, (4, 4)), linewidth=0.8, zorder=0)
ax.grid(which="major", axis="y", color="#4a4a4a", linestyle=(0, (4, 4)), linewidth=0.8, zorder=0)
ax.set_axisbelow(True)

# temperature members
sns.lineplot(data=df_t, x="day", y="temp", hue="member", palette=palette,
             estimator=None, legend=False, linewidth=0.8, sort=False, ax=ax, zorder=2)
sns.lineplot(x=days_for(CONTROL_T), y=CONTROL_T, color="#0000ff", linewidth=2.8,
             estimator=None, ax=ax, zorder=4)
sns.lineplot(x=days_for(OPER_T), y=OPER_T, color="#00dd00", linewidth=2.4,
             estimator=None, ax=ax, zorder=5)
sns.lineplot(x=days_for(ENS_MEAN_T), y=ENS_MEAN_T, color="white", linewidth=2.2,
             estimator=None, ax=ax, zorder=6)
sns.lineplot(x=days_for(CLIM_T), y=CLIM_T, color="#e84848", linewidth=2.8,
             estimator=None, ax=ax, zorder=7)

# precipitation on right axis
ax2 = ax.twinx()
ax2.set_ylim(0, 40)
sns.lineplot(data=df_p, x="day", y="prec", hue="member", palette=palette,
             estimator=None, legend=False, linewidth=0.8, sort=False, ax=ax2,
             clip_on=False, zorder=2)
sns.lineplot(x=days_for(CONTROL_P), y=CONTROL_P, color="#0000ff", linewidth=2.8,
             estimator=None, ax=ax2, zorder=4)
sns.lineplot(x=days_for(OPER_P), y=OPER_P, color="#00dd00", linewidth=2.4,
             estimator=None, ax=ax2, zorder=5)
sns.lineplot(x=days_for(ENS_MEAN_P), y=ENS_MEAN_P, color="white", linewidth=2.2,
             estimator=None, ax=ax2, zorder=6)
ax2.set_xlim(0, 15.75)
ax2.yaxis.set_major_locator(MultipleLocator(10))
ax2.yaxis.set_minor_locator(MultipleLocator(1))
ax2.grid(False)

# ticks & labels
ax.set_xticks(X_TICK_DAYS)
ax.set_xticklabels(X_TICK_LABELS)
ax.tick_params(axis="x", which="both", direction="in", top=True, bottom=True,
               colors="white", labelsize=7.5, pad=5)
ax.tick_params(axis="x", which="major", length=4, width=0.8)
ax.tick_params(axis="x", which="minor", length=4, width=0.8)
ax.tick_params(axis="y", which="major", direction="in", left=True, right=False,
               length=4, width=0.8, colors="white", labelsize=7.5, pad=7)
ax2.tick_params(axis="y", which="major", direction="in", length=4.5, width=0.8,
                colors="white", labelsize=7.5, pad=4)
ax2.tick_params(axis="y", which="minor", direction="in", length=2.5, width=0.8,
                colors="white")
ax.set_xlabel("")
ax.set_ylabel("")
ax2.set_ylabel("")
for a in (ax, ax2):
    for sp in a.spines.values():
        sp.set_color("white")
        sp.set_linewidth(1.0)
        sp.set_visible(True)

# texts
fig.text(435 / W, 1 - 12 / H, "Brussels  (BE)  850 hPa Temp. & Neerslag | Mon, 24Aug2026 00Z",
         ha="center", va="center", color="white", fontsize=11, fontweight="bold")
fig.text(131 / W, 1 - 294 / H, "850 hPa Temp. (°C)", rotation=90, ha="center", va="center",
         color="white", fontsize=7.5)
fig.text(840 / W, 1 - 294 / H, "Neerslag (mm)", rotation=90, ha="center", va="center",
         color="white", fontsize=7.5)
fig.text(486 / W, 1 - 589 / H, "Date (UTC)", ha="center", va="center", color="white", fontsize=7.5)
fig.text(120 / W, 1 - 598 / H, "GFS Ensemble, 51N, 4.5E", ha="left", va="center",
         color="#e8e8e8", fontsize=11)
fig.text(793 / W, 1 - 598 / H, "Wetterzentrale.de", ha="right", va="center",
         color="#e8e8e8", fontsize=11)

# legend (drawn in figure pixels)
def leg_entry(x0, x1, y, color, label, lw=1.5, tx=None):
    fig.add_artist(Line2D([x0 / W, x1 / W], [1 - y / H, 1 - y / H], color=color,
                          linewidth=lw, transform=fig.transFigure))
    if label:
        fig.text((tx if tx is not None else x1 + 0.5) / W, 1 - y / H, label, ha="left",
                 va="center", color="white", fontsize=7.5)

for i in range(15):
    y = 39 + 15 * i
    leg_entry(0, 8, y, MEMBER_COLORS[2 * i], MEMBER_NAMES[2 * i])
    leg_entry(53, 63, y, MEMBER_COLORS[2 * i + 1], MEMBER_NAMES[2 * i + 1])
leg_entry(0, 8, 264, "#0000ff", "Control")
leg_entry(53, 63, 264, "white", "Ens. mean")
leg_entry(53, 63, 293, "#ff4040", "1991-2020")
fig.text(63.5 / W, 1 - 303 / H, "mean", ha="left", va="center", color="white", fontsize=7.5)
leg_entry(0, 8, 306, "#00dd00", "Oper")

fig.savefig("out.png", dpi=100, facecolor="black")
